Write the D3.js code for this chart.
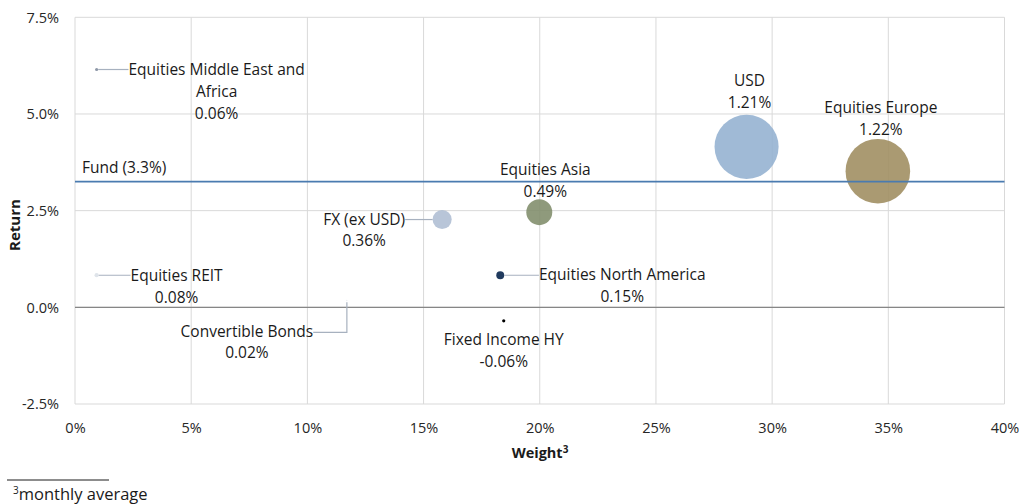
<!DOCTYPE html>
<html>
<head>
<meta charset="utf-8">
<script src="https://cdn.jsdelivr.net/npm/d3@7"></script>
<style>
  body { margin: 0; background: #fff; }
  svg { display: block; font-family: "Open Sans", sans-serif; }
</style>
</head>
<body>
<svg id="chart" width="1021" height="504"></svg>
<script>
// ---- data ----
const categories = ["Equities Middle East and Africa", "Equities REIT", "Convertible Bonds", "FX (ex USD)",
  "Equities North America", "Fixed Income HY", "Equities Asia", "USD", "Equities Europe"];
const labelLines = [["Equities Middle East and", "Africa"], ["Equities REIT"], ["Convertible Bonds"], ["FX (ex USD)"],
  ["Equities North America"], ["Fixed Income HY"], ["Equities Asia"], ["USD"], ["Equities Europe"]];
const weights = [0.93, 0.93, 11.7, 15.8, 18.3, 18.45, 19.98, 28.9, 34.55];       // % (x)
const returns = [6.15, 0.83, 0.18, 2.27, 0.83, -0.35, 2.46, 4.15, 3.52];         // % (y)
const contributions = [0.06, 0.08, 0.02, 0.36, 0.15, -0.06, 0.49, 1.21, 1.22];   // % (bubble size)
const fundReturn = 3.25;
const fundLabel = "Fund (3.3%)";
const xTicks = [0, 5, 10, 15, 20, 25, 30, 35, 40];
const yTicks = [-2.5, 0, 2.5, 5, 7.5];

// ---- styles / layout ----
const colors = ["#8e98a8", "#dfe4ea", "#dfe4ea", "#aebdd3", "#203a5e", "#000000", "#7f8c6a", "#93b1d0", "#9e8c5e"];
const labelPos = [
  {dx: 120, dy: 1.5, leader: "left"},
  {dx: 80, dy: 1.5, leader: "left"},
  {dx: -100, dy: 32, leader: "elbow"},
  {dx: -78, dy: 1, leader: "right"},
  {dx: 122, dy: 1, leader: "left"},
  {dx: 0, dy: 20, leader: null},
  {dx: 6, dy: -41, leader: null},
  {dx: 3, dy: -65, leader: null},
  {dx: 3, dy: -62, leader: null}
];
const lineH = 21.8;
const labelFont = 15.5;

const loc = d3.formatLocale({decimal: ".", thousands: ",", grouping: [3], currency: ["", ""], minus: "-"});
const f1 = loc.format(".1f"), f2 = loc.format(".2f");

const svg = d3.select("#chart");
const x = d3.scaleLinear().domain([0, 40]).range([75, 1004.5]);
const y = d3.scaleLinear().domain([-2.5, 7.5]).range([404, 17.3]);
const r = d3.scaleLinear().domain([0, 1.22]).range([0, 32.3]);

// gridlines
const g = svg.append("g");
g.selectAll("line.vg").data(xTicks).join("line")
  .attr("x1", d => x(d)).attr("x2", d => x(d)).attr("y1", y(7.5)).attr("y2", y(-2.5))
  .attr("stroke", "#d9d9d9").attr("stroke-width", 1);
g.selectAll("line.hg").data(yTicks).join("line")
  .attr("x1", x(0)).attr("x2", x(40)).attr("y1", d => y(d)).attr("y2", d => y(d))
  .attr("stroke", "#d9d9d9").attr("stroke-width", 1);

// zero axis line
svg.append("line").attr("x1", x(0)).attr("x2", x(40)).attr("y1", y(0)).attr("y2", y(0))
  .attr("stroke", "#868686").attr("stroke-width", 1.3);

// axes (tick labels)
const xAxis = d3.axisBottom(x).tickValues(xTicks).tickFormat(d => d + "%").tickSize(0).tickPadding(0);
const xg = svg.append("g").attr("transform", `translate(0, ${y(-2.5)})`).call(xAxis);
xg.select(".domain").remove();
xg.selectAll("text").attr("dy", null).attr("y", 25).attr("dominant-baseline", "middle")
  .attr("font-family", "Open Sans").attr("font-size", 14.5).attr("fill", "#262626");

const yAxis = d3.axisLeft(y).tickValues(yTicks).tickFormat(d => f1(d) + "%").tickSize(0).tickPadding(0);
const yg = svg.append("g").attr("transform", `translate(59, 0)`).call(yAxis);
yg.select(".domain").remove();
yg.selectAll("text").attr("dy", null).attr("x", 0).attr("y", 1)
  .attr("dominant-baseline", "middle")
  .attr("font-family", "Open Sans").attr("font-size", 14.5).attr("fill", "#262626");

// bubbles
const data = categories.map((c, i) => ({c, lines: labelLines[i], w: weights[i], ret: returns[i], v: contributions[i], color: colors[i], pos: labelPos[i]}));
svg.append("g").selectAll("circle").data(data).join("circle")
  .attr("cx", d => x(d.w)).attr("cy", d => y(d.ret)).attr("r", d => Math.max(r(Math.abs(d.v)), 0.4))
  .attr("fill", d => d.color).attr("fill-opacity", d => d.v > 0.3 ? 0.88 : 1);

// fund line
svg.append("line").attr("x1", x(0)).attr("x2", x(40)).attr("y1", y(fundReturn)).attr("y2", y(fundReturn))
  .attr("stroke", "#4a7bb0").attr("stroke-width", 1.8);
svg.append("text").attr("x", x(0) + 7).attr("y", y(fundReturn) - 13).attr("dominant-baseline", "middle")
  .attr("font-size", labelFont).attr("fill", "#1a1a1a").text(fundLabel);

// labels + leaders
const lg = svg.append("g");
data.forEach(d => {
  const px = x(d.w), py = y(d.ret);
  const cx = px + d.pos.dx, cy = py + d.pos.dy;
  const t = lg.append("text").attr("text-anchor", "middle").attr("font-size", labelFont).attr("fill", "#1a1a1a");
  const lines = d.lines.concat([f2(d.v) + "%"]);
  lines.forEach((ln, k) => {
    t.append("tspan").attr("x", cx).attr("y", cy + k * lineH).attr("dominant-baseline", "middle").text(ln);
  });
  const firstW = t.select("tspan").node().getComputedTextLength();
  const rad = r(Math.abs(d.v));
  const leader = lg.append("path").attr("fill", "none").attr("stroke", "#a7b1bf").attr("stroke-width", 1.2);
  if (d.pos.leader === "left") {
    leader.attr("d", d3.line()([[px + rad, py], [cx - firstW / 2, py]]));
  } else if (d.pos.leader === "right") {
    leader.attr("d", d3.line()([[cx + firstW / 2, py], [px - rad, py]]));
  } else if (d.pos.leader === "elbow") {
    leader.attr("d", d3.line()([[cx + firstW / 2, cy], [px, cy], [px, py + 2]]));
  }
});

// axis titles
svg.append("text").attr("transform", `translate(16, 225) rotate(-90)`).attr("text-anchor", "middle")
  .attr("dominant-baseline", "middle").attr("font-size", 15).attr("font-weight", "bold").attr("fill", "#1a1a1a")
  .text("Return");
const wt = svg.append("text").attr("x", 540).attr("y", 454).attr("text-anchor", "middle")
  .attr("dominant-baseline", "middle").attr("font-size", 14.5).attr("font-weight", "bold").attr("fill", "#1a1a1a");
wt.append("tspan").text("Weight");
wt.append("tspan").attr("font-size", 10).attr("dy", -4).text("3");

// footnote
svg.append("line").attr("x1", 7).attr("x2", 109).attr("y1", 480).attr("y2", 480).attr("stroke", "#1a1a1a").attr("stroke-width", 1);
const fn = svg.append("text").attr("x", 13).attr("y", 500).attr("font-size", 16.5).attr("fill", "#1a1a1a");
fn.append("tspan").attr("font-size", 10).attr("dy", -6).text("3");
fn.append("tspan").attr("dy", 6).text("monthly average");
</script>
</body>
</html>
